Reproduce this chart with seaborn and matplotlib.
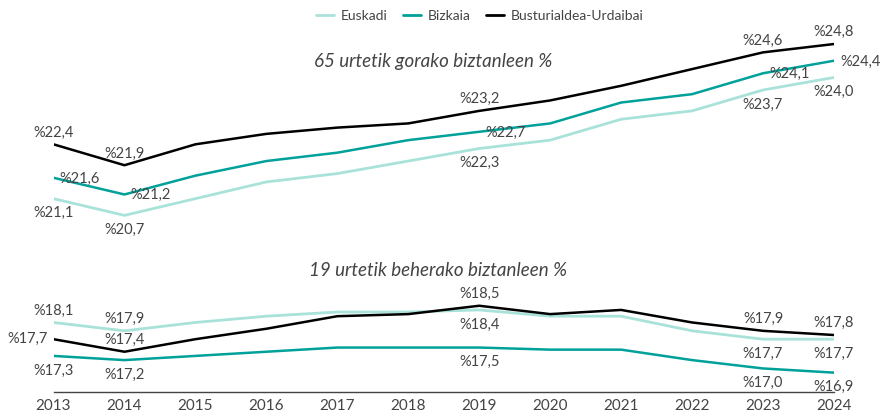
import numpy as np
import pandas as pd
import matplotlib
matplotlib.use("Agg")
import matplotlib.pyplot as plt
import seaborn as sns
from matplotlib.lines import Line2D

# data
years = [2013, 2014, 2015, 2016, 2017, 2018, 2019, 2020, 2021, 2022, 2023, 2024]
series = ["Euskadi", "Bizkaia", "Busturialdea-Urdaibai"]

eusk_65 = [21.1, 20.7, 21.1, 21.5, 21.7, 22.0, 22.3, 22.5, 23.0, 23.2, 23.7, 24.0]
bizk_65 = [21.6, 21.2, 21.65, 22.0, 22.2, 22.5, 22.7, 22.9, 23.4, 23.6, 24.1, 24.4]
bust_65 = [22.4, 21.9, 22.4, 22.65, 22.8, 22.9, 23.2, 23.45, 23.8, 24.2, 24.6, 24.8]

eusk_19 = [18.1, 17.9, 18.1, 18.25, 18.35, 18.35, 18.4, 18.25, 18.25, 17.9, 17.7, 17.7]
bizk_19 = [17.3, 17.2, 17.3, 17.4, 17.5, 17.5, 17.5, 17.45, 17.45, 17.2, 17.0, 16.9]
bust_19 = [17.7, 17.4, 17.7, 17.95, 18.25, 18.3, 18.5, 18.3, 18.4, 18.1, 17.9, 17.8]

label_years = [2013, 2014, 2019, 2023, 2024]

title_65 = "65 urtetik gorako biztanleen %"
title_19 = "19 urtetik beherako biztanleen %"

colors = {"Euskadi": "#a9e2d9", "Bizkaia": "#00a19a", "Busturialdea-Urdaibai": "#000000"}
widths = {"Euskadi": 2.0, "Bizkaia": 1.8, "Busturialdea-Urdaibai": 1.8}

# where each value label sits relative to its point
pos_65 = {
    "Euskadi": ["below"] * 5,
    "Bizkaia": ["right"] * 5,
    "Busturialdea-Urdaibai": ["above"] * 5,
}
pos_19 = {
    "Euskadi": ["above", "above", "below", "below", "below"],
    "Bizkaia": ["below"] * 5,
    "Busturialdea-Urdaibai": ["left", "above", "above", "above", "above"],
}

FONT = ["Lato", "DejaVu Sans"]
sns.set_style("white")
plt.rcParams["font.family"] = FONT
TXT = "#444444"


def long_df(a, b, c):
    rows = []
    for name, vals in zip(series, [a, b, c]):
        for y, v in zip(years, vals):
            rows.append({"year": y, "value": v, "serie": name})
    return pd.DataFrame(rows)


def fmt(v):
    return "%" + f"{v:.1f}".replace(".", ",")


def add_labels(ax, df, positions):
    offs = {"above": (0, 8.5, "center"), "below": (0, -10.5, "center"),
            "right": (4.5, -0.5, "left"), "left": (-4.5, 0.5, "right")}
    for name in series:
        sub = df[df.serie == name].set_index("year")
        for yr, p in zip(label_years, positions[name]):
            v = sub.loc[yr, "value"]
            dx, dy, ha = offs[p]
            ax.annotate(fmt(v), (yr, v), xytext=(dx, dy), textcoords="offset points",
                        ha=ha, va="center", fontsize=10.5, color=TXT)


fig = plt.figure(figsize=(8.83, 4.12), dpi=100)
W, H = 883, 412
left = 53.5 / W
width = (834 - 53.5) / W

ax1 = fig.add_axes([left, (H - 230) / H, width, 205 / H])
ax2 = fig.add_axes([left, (H - 391.7) / H, width, 111.7 / H])

df65 = long_df(eusk_65, bizk_65, bust_65)
df19 = long_df(eusk_19, bizk_19, bust_19)

for ax, df in [(ax1, df65), (ax2, df19)]:
    for name in series:
        sns.lineplot(data=df[df.serie == name], x="year", y="value", ax=ax,
                     color=colors[name], linewidth=widths[name], legend=False)
    ax.set_xlim(2013, 2024)
    ax.set_xlabel("")
    ax.set_ylabel("")
    ax.set_yticks([])
    for s in ["top", "right", "left", "bottom"]:
        ax.spines[s].set_visible(False)

ax1.set_ylim(20.35, 25.255)
ax1.set_xticks([])
ax2.set_ylim(16.444, 19.116)
ax2.spines["bottom"].set_visible(True)
ax2.spines["bottom"].set_color("#444444")
ax2.spines["bottom"].set_linewidth(1.0)
ax2.set_xticks(years)
ax2.set_xticklabels([str(y) for y in years], fontsize=11, color=TXT)
ax2.tick_params(axis="x", direction="out", length=3, width=1, color="#444444", pad=2)

add_labels(ax1, df65, pos_65)
add_labels(ax2, df19, pos_19)

fig.text(433 / W, 1 - 62 / H, title_65, ha="center", va="center", fontsize=13.5,
         style="italic", color=TXT)
fig.text(438 / W, 1 - 270 / H, title_19, ha="center", va="center", fontsize=13.5,
         style="italic", color=TXT)

handles = [Line2D([0], [0], color=colors[n], lw=2) for n in series]
fig.legend(handles, series, loc="center", bbox_to_anchor=(480 / W, 1 - 16 / H), ncol=3,
           frameon=False, fontsize=10, handlelength=1.3, handletextpad=0.5,
           columnspacing=1.1, labelcolor="#444444")

fig.savefig("out.png", dpi=100)
